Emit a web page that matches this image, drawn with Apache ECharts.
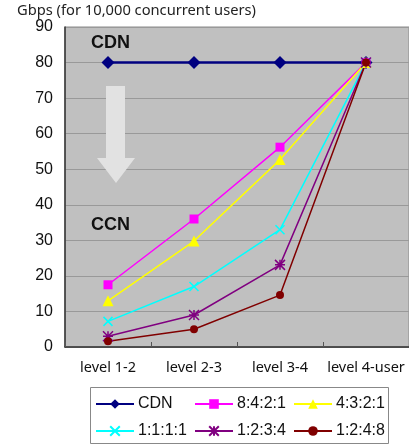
<!DOCTYPE html>
<html>
<head>
<meta charset="utf-8">
<script src="https://cdn.jsdelivr.net/npm/echarts@6/dist/echarts.min.js"></script>
<style>
  html, body { margin: 0; padding: 0; background: #fff; }
  #chart { width: 409px; height: 445px; }
</style>
</head>
<body>
<div id="chart"></div>
<script>
// data
var levels = ['level 1-2', 'level 2-3', 'level 3-4', 'level 4-user'];
var cdn    = [80, 80, 80, 80];
var r8421  = [17.5, 36, 56.2, 80];
var r4321  = [13, 29.8, 52.7, 80];
var r1111  = [7.2, 17, 33, 80];
var r1234  = [3, 9, 23.1, 80];
var r1248  = [1.6, 5, 14.6, 80];
var yTicks = [0, 10, 20, 30, 40, 50, 60, 70, 80, 90];

var crossPath = 'path://M0,0L10,10M10,0L0,10';
var starPath = 'path://M0,0L10,10M10,0L0,10M5,0L5,10M0,5L10,5';

var mychart = echarts.init(document.getElementById('chart'));

function lineSeries(name, data, color, symbol, size, stroke) {
    var s = {
        name: name,
        type: 'line',
        data: data,
        symbol: symbol,
        symbolSize: size,
        lineStyle: { color: color, width: name == 'CDN' ? 2.5 : 1.5 },
        itemStyle: { color: color },
        emphasis: { disabled: true },
        animation: false,
        z: 3
    };
    if (stroke) {
        s.itemStyle = { color: 'rgba(0,0,0,0)', borderColor: color, borderWidth: 1.5 };
    }
    return s;
}

function oneLegend(name, left, top) {
    return {
        data: [name],
        left: left,
        top: top,
        itemWidth: 38,
        itemHeight: 12,
        itemGap: 0,
        padding: 0,
        textStyle: { fontFamily: 'Liberation Sans', fontSize: 16, color: '#111', padding: [0, 0, 0, -1] },
        selectedMode: false
    };
}

var option = {
    backgroundColor: '#fff',
    animation: false,
    grid: {
        left: 65, right: -2, top: 27, bottom: 98,
        show: true, backgroundColor: '#c0c0c0', borderColor: '#8a8a8a', borderWidth: 1
    },
    xAxis: {
        type: 'category',
        data: levels,
        boundaryGap: true,
        axisLine: { lineStyle: { color: '#333', width: 1.5 } },
        axisTick: { show: true, inside: true, length: 5, lineStyle: { color: '#555' } },
        axisLabel: { interval: 0, fontFamily: 'Noto Sans', fontSize: 14.5, color: '#111', margin: 13 }
    },
    yAxis: {
        type: 'value',
        min: yTicks[0],
        max: yTicks[yTicks.length - 1],
        interval: 10,
        axisLine: { show: true, lineStyle: { color: '#333', width: 1.5 } },
        axisTick: { show: false },
        splitLine: { lineStyle: { color: '#999', width: 1 } },
        axisLabel: { fontFamily: 'Liberation Sans', fontSize: 16, color: '#111', margin: 12 }
    },
    legend: [
        oneLegend('CDN', 95, 396),
        oneLegend('8:4:2:1', 194, 396),
        oneLegend('4:3:2:1', 293, 396),
        oneLegend('1:1:1:1', 95, 423),
        oneLegend('1:2:3:4', 194, 423),
        oneLegend('1:2:4:8', 293, 423)
    ],
    graphic: [
        { type: 'text', left: 17, top: 3, style: { text: 'Gbps (for 10,000 concurrent users)', font: '14.7px "Noto Sans"', fill: '#222' } },
        { type: 'text', left: 91, top: 34, z: 10, style: { text: 'CDN', font: 'bold 18px "Liberation Sans"', fill: '#111' } },
        { type: 'text', left: 91, top: 216, z: 10, style: { text: 'CCN', font: 'bold 18px "Liberation Sans"', fill: '#111' } },
        { type: 'polygon', z: 1, shape: { points: [[106, 86], [125, 86], [125, 158], [135, 158], [116, 183], [97, 158], [106, 158]] },
          style: { fill: '#e2e2e2' } },
        { type: 'rect', shape: { x: 90.5, y: 387.5, width: 298, height: 56 }, style: { fill: 'none', stroke: '#888', lineWidth: 1 } }
    ],
    series: [
        lineSeries('CDN', cdn, '#000080', 'diamond', 13),
        lineSeries('8:4:2:1', r8421, '#ff00ff', 'rect', 9),
        lineSeries('4:3:2:1', r4321, '#ffff00', 'triangle', 11),
        lineSeries('1:1:1:1', r1111, '#00ffff', crossPath, 9, true),
        lineSeries('1:2:3:4', r1234, '#800080', starPath, 10, true),
        lineSeries('1:2:4:8', r1248, '#800000', 'circle', 8)
    ]
};
mychart.setOption(option);
</script>
</body>
</html>
